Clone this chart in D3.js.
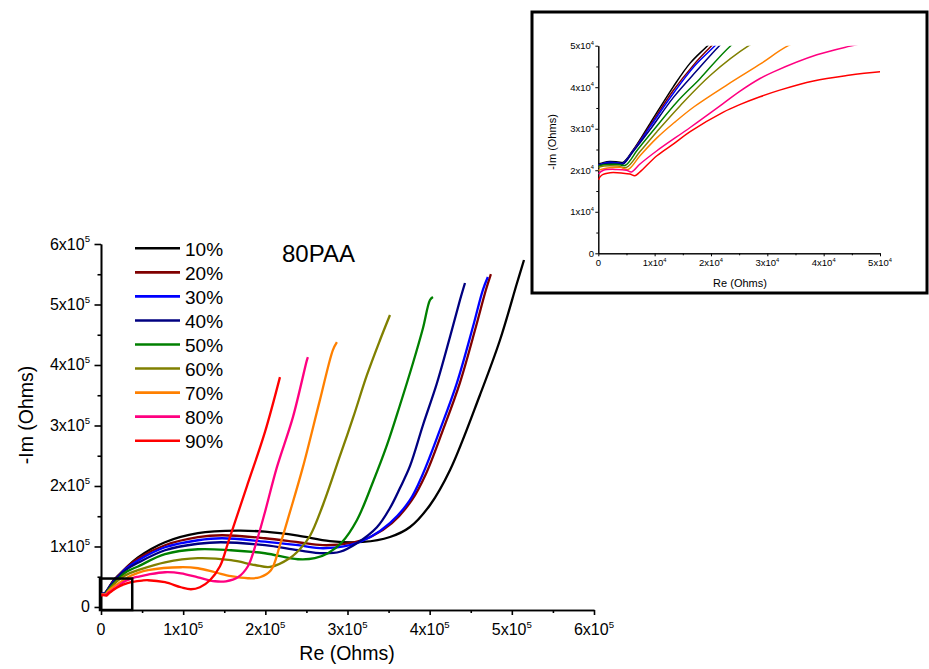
<!DOCTYPE html>
<html>
<head>
<meta charset="utf-8">
<script src="https://cdn.jsdelivr.net/npm/d3@7"></script>
<style>
body { margin: 0; background: #fff; }
text { font-family: Arial, "Liberation Sans", sans-serif; fill: #000; }
</style>
</head>
<body>
<div id="container"></div>
<script>
// Nyquist data, [Re, -Im] in units of 1x10^4 Ohms
var labels = ["10%", "20%", "30%", "40%", "50%", "60%", "70%", "80%", "90%"];
var colors = ["#000000", "#800000", "#0000ff", "#000080", "#008000", "#808000", "#ff8000", "#ff0080", "#ff0000"];

var s10 = [[0,2.15],[0.1,2.19],[0.2,2.21],[0.35,2.2],[0.44,2.19],[0.62,2.49],[0.92,3.13],[1.33,4.01],[1.63,4.58],[1.94,5.0],[3.0,6.4],[4.5,8.2],
  [7.79,10.7],[11.8,12.2],[16.67,12.61],[19.95,12.44],[23.97,11.8],[27.86,10.9],[31.87,10.75],[35.17,11.57],[37.61,13.22],[40.05,16.86],
  [42.48,22.64],[46.12,35.04],[48.56,44.13],[50.63,53.55],[51.48,57.36]];
var s20 = [[0,2.12],[0.1,2.16],[0.2,2.18],[0.35,2.17],[0.44,2.16],[0.62,2.48],[0.92,3.08],[1.33,3.92],[1.7,4.55],[2.01,5.0],[3.0,6.4],[4.5,8.0],
  [7.79,10.2],[11.8,11.53],[14.72,11.86],[19.95,11.36],[23.97,10.7],[27.01,10.21],[30.29,10.54],[32.97,11.69],[35.4,13.85],[37.83,17.65],
  [39.54,21.98],[41.61,29.23],[43.67,37.01],[45.62,46.27],[46.84,52.39],[47.45,55.03]];
var s30 = [[0,2.13],[0.1,2.17],[0.2,2.19],[0.35,2.18],[0.44,2.17],[0.62,2.47],[0.92,3.05],[1.33,3.85],[1.7,4.5],[2.07,5.0],[3.0,6.3],[4.5,7.7],
  [7.79,9.87],[11.8,11.03],[14.72,11.36],[19.95,10.79],[23.97,10.21],[27.01,9.71],[30.29,10.21],[32.73,11.53],[35.16,13.85],[37.59,17.65],
  [39.17,21.98],[41.24,29.23],[43.31,37.01],[45.26,46.27],[46.47,52.39],[47.08,54.54]];
var s40 = [[0,2.12],[0.1,2.15],[0.2,2.17],[0.35,2.16],[0.44,2.15],[0.62,2.45],[0.92,2.98],[1.33,3.75],[1.75,4.4],[2.15,5.0],[3.0,6.1],[4.5,7.3],
  [7.79,9.38],[11.8,10.45],[14.6,10.7],[19.95,10.21],[23.97,9.38],[27.01,8.88],[29.08,9.13],[31.14,10.54],[33.58,13.18],[35.17,16.36],
  [36.39,19.67],[37.61,23.31],[39.19,30.08],[40.89,37.02],[42.47,44.63],[43.69,50.74],[44.3,53.55]];
var s50 = [[0,2.1],[0.1,2.13],[0.2,2.14],[0.35,2.14],[0.48,2.12],[0.7,2.5],[1.0,3.0],[1.4,3.65],[1.8,4.2],[2.35,5.0],[3.2,5.9],[4.5,6.7],
  [7.79,8.72],[11.8,9.54],[15.82,9.38],[19.95,8.88],[23.97,7.89],[26.03,8.06],[27.62,8.88],[29.32,10.7],[31.14,14.34],[33.1,20.66],
  [34.81,26.78],[36.39,33.39],[37.97,40.33],[39.19,46.12],[40.04,50.74],[40.4,51.24]];
var s60 = [[0,2.07],[0.1,2.1],[0.2,2.11],[0.35,2.1],[0.5,2.07],[0.74,2.45],[1.04,2.93],[1.45,3.55],[2.0,4.3],[2.67,5.0],[3.5,5.6],[4.5,6.1],
  [7.79,7.39],[11.8,8.06],[15.82,7.73],[18.74,6.94],[20.57,6.61],[23.0,8.1],[24.22,9.59],[25.43,11.74],[27.01,16.86],[29.08,24.96],
  [30.67,31.24],[32.37,38.35],[33.96,44.13],[35.17,48.26]];
var s70 = [[0,2.0],[0.2,2.06],[0.39,2.07],[0.53,2.02],[0.74,2.35],[1.04,2.78],[1.35,3.15],[1.7,3.53],[2.3,4.07],[2.9,4.58],[3.37,5.0],
  [4.5,5.65],[5.72,6.1],[9.73,6.57],[11.8,6.4],[13.87,5.74],[15.82,5.08],[17.88,4.75],[19.34,4.91],[20.68,6.07],[21.78,10.21],[22.99,15.67],
  [24.57,23.11],[26.64,34.19],[28.22,42.47],[28.71,43.79]];
var s80 = [[0,1.91],[0.09,2.0],[0.33,2.02],[0.5,2.0],[0.59,1.96],[0.74,2.15],[1.04,2.47],[1.63,3.03],[2.22,3.61],[2.51,3.9],[2.87,4.21],
  [3.11,4.37],[3.88,4.78],[4.47,4.99],[5.72,5.35],[7.79,5.74],[9.73,5.57],[11.8,4.91],[13.87,4.25],[15.21,4.25],[16.67,4.91],[17.88,6.73],
  [18.98,11.03],[19.95,15.66],[21.41,23.11],[23.36,31.38],[25.06,40.81],[25.18,41.31]];
var s90 = [[0,1.77],[0.06,1.88],[0.21,1.94],[0.44,1.93],[0.56,1.91],[0.65,1.87],[0.74,1.96],[1.04,2.35],[1.33,2.63],[1.63,2.93],[2.22,3.4],
  [2.51,3.58],[2.87,3.77],[3.22,3.93],[3.82,4.15],[4.41,4.28],[5.0,4.37],[5.72,4.42],[7.79,4.09],[9.73,3.26],[10.95,2.93],[12.04,3.26],
  [13.26,4.42],[14.48,6.73],[15.45,10.54],[16.3,14.01],[17.88,20.46],[19.95,28.9],[21.78,38.0]];

var series = [s10, s20, s30, s40, s50, s60, s70, s80, s90];

var mainTicks = [0, 10, 20, 30, 40, 50, 60];
var mainMinor = [5, 15, 25, 35, 45, 55];
var mainTickLabels = ["0", "1x10", "2x10", "3x10", "4x10", "5x10", "6x10"];
var insetTicks = [0, 1, 2, 3, 4, 5];
var insetMinor = [0.5, 1.5, 2.5, 3.5, 4.5];
var insetTickLabels = ["0", "1x10", "2x10", "3x10", "4x10", "5x10"];

var width = 929, height = 669;

var svg = d3.select("#container")
  .append("svg")
  .attr("width", width)
  .attr("height", height);

// superscript label helper
function tickText(sel, txt, exp, fs) {
  sel.append("tspan").text(txt);
  if (txt !== "0") {
    sel.append("tspan").attr("dy", -fs * 0.45).attr("font-size", fs * 0.6).text(exp);
  }
}

// ---------- main plot ----------
var x = d3.scaleLinear().domain([0, 60]).range([101, 594]);
var y = d3.scaleLinear().domain([-0.5, 60]).range([610, 244]);

var line = d3.line()
  .x(function(d) { return x(d[0]); })
  .y(function(d) { return y(d[1]); })
  .curve(d3.curveCatmullRom.alpha(0.5));

var gx = svg.append("g").attr("transform", "translate(0,610)");
gx.call(d3.axisBottom(x).tickValues(mainTicks).tickSize(5).tickSizeOuter(0).tickFormat(""));
gx.append("g").call(d3.axisBottom(x).tickValues(mainMinor).tickSize(3).tickSizeOuter(0).tickFormat(""));

var gy = svg.append("g").attr("transform", "translate(101,0)");
gy.call(d3.axisLeft(y).tickValues(mainTicks).tickSize(6.5).tickSizeOuter(0).tickFormat(""));
gy.append("g").call(d3.axisLeft(y).tickValues(mainMinor).tickSize(3.5).tickSizeOuter(0).tickFormat(""));

svg.selectAll(".domain, .tick line").attr("stroke", "#000").attr("stroke-width", 1.6);

svg.selectAll(".xlab")
  .data(mainTicks)
  .enter()
  .append("text")
  .attr("class", "xlab")
  .attr("x", function(d) { return x(d); })
  .attr("y", 635)
  .attr("text-anchor", "middle")
  .attr("font-size", 16)
  .each(function(d, i) { tickText(d3.select(this), mainTickLabels[i], "5", 16); });

svg.selectAll(".ylab")
  .data(mainTicks)
  .enter()
  .append("text")
  .attr("class", "ylab")
  .attr("x", 90)
  .attr("y", function(d) { return y(d) + 5.5; })
  .attr("text-anchor", "end")
  .attr("font-size", 16)
  .each(function(d, i) { tickText(d3.select(this), mainTickLabels[i], "5", 16); });

svg.append("text")
  .attr("x", 347).attr("y", 660)
  .attr("text-anchor", "middle")
  .attr("font-size", 19.5)
  .text("Re (Ohms)");

svg.append("text")
  .attr("transform", "translate(33,415) rotate(-90)")
  .attr("text-anchor", "middle")
  .attr("font-size", 19.5)
  .text("-Im (Ohms)");

svg.append("g").selectAll("path")
  .data(series)
  .enter()
  .append("path")
  .attr("d", line)
  .attr("fill", "none")
  .attr("stroke", function(d, i) { return colors[i]; })
  .attr("stroke-width", 2.3)
  .attr("stroke-linejoin", "round");

// zoom box at the origin
svg.append("rect")
  .attr("x", x(0) - 1)
  .attr("y", y(4.7))
  .attr("width", x(3.8) - x(0) + 1)
  .attr("height", y(-0.5) - y(4.7))
  .attr("fill", "none")
  .attr("stroke", "#000")
  .attr("stroke-width", 2.5);

// legend
var legend = svg.append("g").selectAll("g")
  .data(labels)
  .enter()
  .append("g")
  .attr("transform", function(d, i) { return "translate(0," + (248.3 + i * 24.05) + ")"; });

legend.append("line")
  .attr("x1", 135).attr("x2", 180)
  .attr("stroke", function(d, i) { return colors[i]; })
  .attr("stroke-width", 2.6);

legend.append("text")
  .attr("x", 185).attr("y", 7.5)
  .attr("font-size", 19)
  .text(function(d) { return d; });

svg.append("text")
  .attr("x", 282).attr("y", 262)
  .attr("font-size", 24)
  .text("80PAA");

// ---------- inset ----------
svg.append("rect")
  .attr("x", 532).attr("y", 12)
  .attr("width", 395).attr("height", 281)
  .attr("fill", "#fff")
  .attr("stroke", "#000")
  .attr("stroke-width", 3);

var xi = d3.scaleLinear().domain([0, 5]).range([598.3, 880]);
var yi = d3.scaleLinear().domain([0, 5]).range([253.3, 45.7]);

var lineInset = d3.line()
  .x(function(d) { return xi(d[0]); })
  .y(function(d) { return yi(d[1]); })
  .curve(d3.curveCatmullRom.alpha(0.5));

svg.append("clipPath").attr("id", "clip")
  .append("rect")
  .attr("x", xi(0)).attr("y", yi(5))
  .attr("width", xi(5) - xi(0)).attr("height", yi(0) - yi(5));

var gxi = svg.append("g").attr("class", "inset").attr("transform", "translate(0,253.3)");
gxi.call(d3.axisBottom(xi).tickValues(insetTicks).tickSize(3).tickSizeOuter(0).tickFormat(""));
gxi.append("g").call(d3.axisBottom(xi).tickValues(insetMinor).tickSize(2).tickSizeOuter(0).tickFormat(""));

var gyi = svg.append("g").attr("class", "inset").attr("transform", "translate(598.3,0)");
gyi.call(d3.axisLeft(yi).tickValues(insetTicks).tickSize(3).tickSizeOuter(0).tickFormat(""));
gyi.append("g").call(d3.axisLeft(yi).tickValues(insetMinor).tickSize(2).tickSizeOuter(0).tickFormat(""));

svg.selectAll(".inset .domain, .inset .tick line").attr("stroke", "#000").attr("stroke-width", 1);

svg.selectAll(".xilab")
  .data(insetTicks)
  .enter()
  .append("text")
  .attr("class", "xilab")
  .attr("x", function(d) { return xi(d); })
  .attr("y", 266)
  .attr("text-anchor", "middle")
  .attr("font-size", 9.5)
  .each(function(d, i) { tickText(d3.select(this), insetTickLabels[i], "4", 9.5); });

svg.selectAll(".yilab")
  .data(insetTicks)
  .enter()
  .append("text")
  .attr("class", "yilab")
  .attr("x", 594)
  .attr("y", function(d) { return yi(d) + 3.3; })
  .attr("text-anchor", "end")
  .attr("font-size", 9.5)
  .each(function(d, i) { tickText(d3.select(this), insetTickLabels[i], "4", 9.5); });

svg.append("text")
  .attr("x", 740).attr("y", 287)
  .attr("text-anchor", "middle")
  .attr("font-size", 11)
  .text("Re (Ohms)");

svg.append("text")
  .attr("transform", "translate(556,142) rotate(-90)")
  .attr("text-anchor", "middle")
  .attr("font-size", 11)
  .text("-Im (Ohms)");

svg.append("g").attr("clip-path", "url(#clip)")
  .selectAll("path")
  .data(series)
  .enter()
  .append("path")
  .attr("d", lineInset)
  .attr("fill", "none")
  .attr("stroke", function(d, i) { return colors[i]; })
  .attr("stroke-width", 1.5)
  .attr("stroke-linejoin", "round");
</script>
</body>
</html>
